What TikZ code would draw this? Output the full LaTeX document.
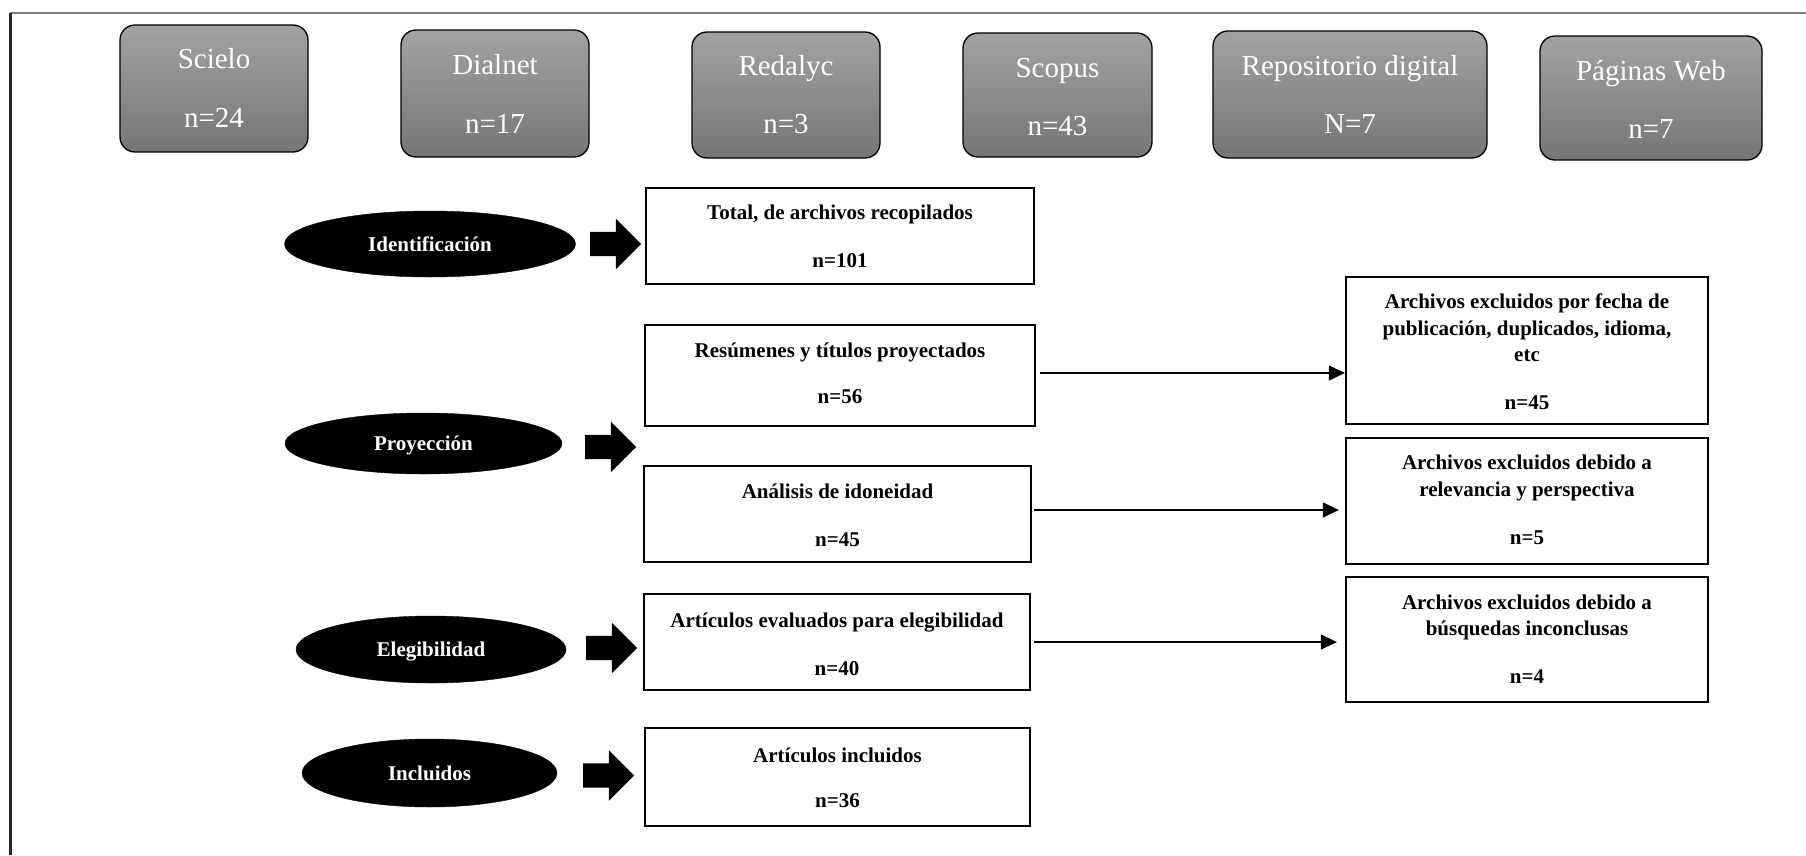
\documentclass[tikz,border=0pt]{standalone}
\usepackage{fontspec}
\setmainfont{Liberation Serif}
\usetikzlibrary{shapes.geometric,shapes.arrows,arrows.meta}
\definecolor{gtop}{HTML}{A2A2A2}
\definecolor{gbot}{HTML}{767676}
\begin{document}
\begin{tikzpicture}[x=1pt,y=-1pt,
  src/.style={draw=black,line width=1.3pt,rounded corners=15pt,top color=gtop,bottom color=gbot,inner sep=0pt},
  srctxt/.style={anchor=base,text=white,font=\fontsize{29}{32}\selectfont,inner sep=0pt},
  phase/.style={ellipse,fill=black,draw=black,inner sep=0pt,text=white,font=\fontsize{21}{24}\selectfont\bfseries,text height=14pt,text depth=0pt},
  blk/.style={single arrow,fill=black,draw=none,inner xsep=0pt,inner ysep=12pt,outer sep=0pt,minimum height=51pt,single arrow head extend=13pt,single arrow tip angle=90},
  box/.style={draw=black,line width=2.3pt,inner sep=0pt},
  btxt/.style={anchor=base,font=\fontsize{21}{24}\selectfont\bfseries,inner sep=0pt},
  conn/.style={line width=1.3pt,-{Triangle[length=16pt,width=15pt]}}
]
\useasboundingbox (0,0) rectangle (1806,855);
% frame lines
\draw[gray,line width=1.5pt] (10,13) -- (1806,13);
\draw[black!85,line width=3pt] (10.5,12.5) -- (10.5,855);

% sources
\node[src,minimum width=188pt,minimum height=127pt] (sci) at (214,88.5) {};
\node[srctxt] (sciT) at (214,68) {Scielo};
\node[srctxt] (sciN) at (214,127) {n=24};
\node[src,minimum width=188pt,minimum height=127pt] (dia) at (495,93.5) {};
\node[srctxt] (diaT) at (495,74) {Dialnet};
\node[srctxt] (diaN) at (495,133) {n=17};
\node[src,minimum width=188pt,minimum height=126pt] (red) at (786,95) {};
\node[srctxt] (redT) at (786,75) {Redalyc};
\node[srctxt] (redN) at (786,133) {n=3};
\node[src,minimum width=189pt,minimum height=124pt] (sco) at (1057.5,95) {};
\node[srctxt] (scoT) at (1057.5,77) {Scopus};
\node[srctxt] (scoN) at (1057.5,135) {n=43};
\node[src,minimum width=274pt,minimum height=127pt] (rep) at (1350,94.5) {};
\node[srctxt] (repT) at (1350,75) {Repositorio digital};
\node[srctxt] (repN) at (1350,133) {N=7};
\node[src,minimum width=222pt,minimum height=124pt] (pag) at (1651,98) {};
\node[srctxt] (pagT) at (1651,80) {Páginas Web};
\node[srctxt] (pagN) at (1651,138) {n=7};

% phases
\node[phase,minimum width=291pt,minimum height=66pt] (ide) at (430,244) {Identificación};
\node[phase,minimum width=277pt,minimum height=61pt] (pro) at (423.5,443.5) {Proyección};
\node[phase,minimum width=270pt,minimum height=67pt] (ele) at (431,649.5) {Elegibilidad};
\node[phase,minimum width=255pt,minimum height=68pt] (inc) at (429.5,773) {Incluidos};

% block arrows
\node[blk] (a1) at (609.5,244) {};
\node[blk] (a2) at (604.5,447) {};
\node[blk] (a3) at (605.5,648) {};
\node[blk] (a4) at (602.5,775.5) {};

% main boxes
\node[box,minimum width=388pt,minimum height=96pt] (b1) at (840,236) {};
\node[btxt] (b1t) at (840,219) {Total, de archivos recopilados};
\node[btxt] (b1n) at (840,267) {n=101};
\node[box,minimum width=390pt,minimum height=101pt] (b2) at (840,375.5) {};
\node[btxt] (b2t) at (840,357) {Resúmenes y títulos proyectados};
\node[btxt] (b2n) at (840,403) {n=56};
\node[box,minimum width=387pt,minimum height=96pt] (b3) at (837.5,514) {};
\node[btxt] (b3t) at (837.5,498) {Análisis de idoneidad};
\node[btxt] (b3n) at (837.5,546) {n=45};
\node[box,minimum width=386pt,minimum height=96pt] (b4) at (837,642) {};
\node[btxt] (b4t) at (837,627) {Artículos evaluados para elegibilidad};
\node[btxt] (b4n) at (837,675) {n=40};
\node[box,minimum width=385pt,minimum height=98pt] (b5) at (837.5,777) {};
\node[btxt] (b5t) at (837.5,762) {Artículos incluidos};
\node[btxt] (b5n) at (837.5,807) {n=36};

% right boxes
\node[box,minimum width=362pt,minimum height=147pt] (r1) at (1527,350.5) {};
\node[btxt] (r1a) at (1527,308) {Archivos excluidos por fecha de};
\node[btxt] (r1b) at (1527,335) {publicación, duplicados, idioma,};
\node[btxt] (r1c) at (1527,361) {etc};
\node[btxt] (r1n) at (1527,409) {n=45};
\node[box,minimum width=362pt,minimum height=126pt] (r2) at (1527,501) {};
\node[btxt] (r2a) at (1527,469) {Archivos excluidos debido a};
\node[btxt] (r2b) at (1527,496) {relevancia y perspectiva};
\node[btxt] (r2n) at (1527,544) {n=5};
\node[box,minimum width=362pt,minimum height=125pt] (r3) at (1527,639.5) {};
\node[btxt] (r3a) at (1527,609) {Archivos excluidos debido a};
\node[btxt] (r3b) at (1527,635) {búsquedas inconclusas};
\node[btxt] (r3n) at (1527,683) {n=4};

% connectors
\draw[conn] ([xshift=4pt,yshift=2.5pt]b2.east) coordinate (s1) -- (s1 -| r1.west);
\draw[conn,shorten >=6pt] ([xshift=2pt,yshift=4pt]b3.east) coordinate (s2) -- (s2 -| r2.west);
\draw[conn,shorten >=8pt] ([xshift=3pt]b4.east) coordinate (s3) -- (s3 -| r3.west);
\end{tikzpicture}
\end{document}
